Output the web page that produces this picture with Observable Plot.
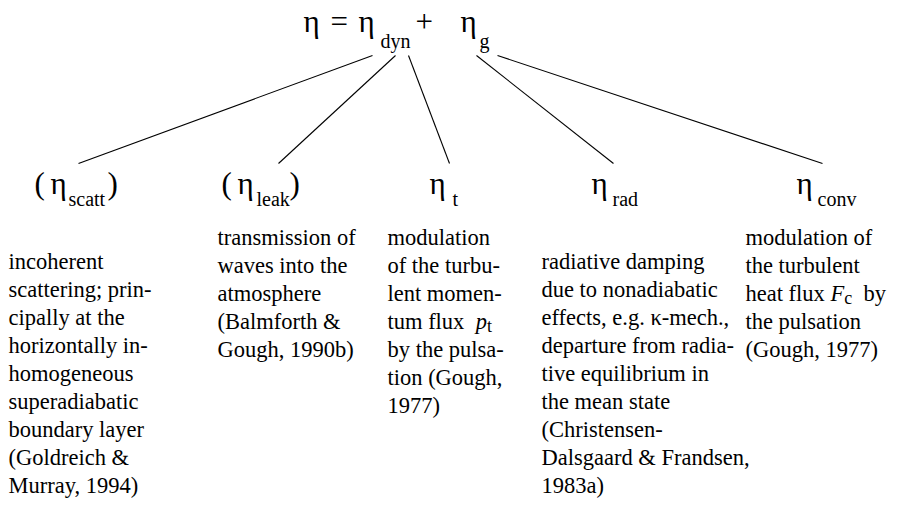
<!DOCTYPE html>
<html><head><meta charset="utf-8">
<script src="https://cdn.jsdelivr.net/npm/d3@7"></script>
<script src="https://cdn.jsdelivr.net/npm/@observablehq/plot@0.6"></script>
<style>
html,body{margin:0;padding:0;background:#fff;}
#chart{width:917px;height:507px;overflow:hidden;}
</style>
</head><body><div id="chart"></div>
<script>
// ---- data ----
const eqText = ["η", "=", "η", "dyn", "+", "η", "g"];
const eqIsSub = [false, false, false, true, false, false, true];

const terms = ["scatt", "leak", "t", "rad", "conv"];
const parents = ["dyn", "dyn", "dyn", "g", "g"];
const bracketed = [true, true, false, false, false];

const desc0 = ["incoherent", "scattering; prin-", "cipally at the", "horizontally in-", "homogeneous", "superadiabatic", "boundary layer", "(Goldreich &", "Murray, 1994)"];
const desc1 = ["transmission of", "waves into the", "atmosphere", "(Balmforth &", "Gough, 1990b)"];
const desc2 = ["modulation", "of the turbu-", "lent momen-", "tum flux  *p*_t", "by the pulsa-", "tion (Gough,", "1977)"];
const desc3 = ["radiative damping", "due to nonadiabatic", "effects, e.g. κ-mech.,", "departure from radia-", "tive equilibrium in", "the mean state", "(Christensen-", "Dalsgaard & Frandsen,", "1983a)"];
const desc4 = ["modulation of", "the turbulent", "heat flux *F*_c  by", "the pulsation", "(Gough, 1977)"];
const descriptions = [desc0, desc1, desc2, desc3, desc4];

// ---- layout (pixel space) ----
const W = 917, H = 507;
const eqX = [303, 330, 358, 380, 415, 460, 479];
const eqBase = 31, eqSubBase = 47;
const linkTopX = [372, 395, 408, 476, 497];
const linkTopY = 55;
const linkBotX = [78, 278, 449, 613, 822];
const linkBotY = 163;
const etaX = [50, 237, 429, 591, 796];
const subX = [68, 256, 452, 612, 817];
const parenL = [34, 221];
const parenR = [107, 289];
const labBase = 193, labSubBase = 205;
const colX = [8, 217, 387, 541, 745];
const colFirst = [268, 244, 244, 268, 244];
const lineH = 28;

const font = "'Liberation Serif', 'Times New Roman', serif";

const eqData = eqText.map((t, i) => ({t, x: eqX[i], y: eqIsSub[i] ? eqSubBase : eqBase, size: eqIsSub[i] ? 20 : 31}));
const links = terms.map((t, i) => ({term: t, parent: parents[i], x1: linkTopX[i], y1: linkTopY, x2: linkBotX[i], y2: linkBotY}));
const labMain = terms.map((t, i) => ({t: "η", x: etaX[i], y: labBase}));
const labSub = terms.map((t, i) => ({t, x: subX[i], y: labSubBase}));
const parens = [];
terms.forEach((t, i) => { if (bracketed[i]) { parens.push({t: "(", x: parenL[i], y: labBase}); parens.push({t: ")", x: parenR[i], y: labBase}); } });
const lines = [];
descriptions.forEach((d, c) => d.forEach((s, k) => lines.push({t: s, x: colX[c], y: colFirst[c] + k * lineH})));

const txt = {textAnchor: "start", lineAnchor: "bottom", fill: "#000", fontFamily: font};
const chart = Plot.plot({
  width: W, height: H,
  margin: 0,
  x: {domain: [0, W], range: [0, W], axis: null},
  y: {domain: [0, H], range: [0, H], axis: null},
  style: {fontFamily: font, background: "#fff", color: "#000", overflow: "visible"},
  marks: [
    Plot.link(links, {x1: "x1", y1: "y1", x2: "x2", y2: "y2", stroke: "#000", strokeWidth: 1.1}),
    Plot.text(eqData, {x: "x", y: "y", text: "t", fontSize: d => d.size, ...txt}),
    Plot.text(labMain, {x: "x", y: "y", text: "t", fontSize: 31, ...txt}),
    Plot.text(labSub, {x: "x", y: "y", text: "t", fontSize: 20, ...txt}),
    Plot.text(parens, {x: "x", y: "y", text: "t", fontSize: 31, ...txt}),
    Plot.text(lines, {x: "x", y: "y", text: "t", fontSize: 22.5, ...txt})
  ]
});
document.getElementById("chart").appendChild(chart);

// rich text: *x* italic, _c subscript
chart.querySelectorAll("text").forEach(el => {
  const s = el.textContent;
  if (!s.includes("_")) return;
  const m = s.match(/\*(.)\*_(.)/);
  if (!m) return;
  const before = s.slice(0, m.index), after = s.slice(m.index + m[0].length);
  while (el.firstChild) el.removeChild(el.firstChild);
  const NS = "http://www.w3.org/2000/svg";
  const add = (t0, attrs) => { const t = document.createElementNS(NS, "tspan"); t.textContent = t0; for (const k in attrs) t.setAttribute(k, attrs[k]); el.appendChild(t); return t; };
  el.style.whiteSpace = "pre";
  add(before, {});
  add(m[1], {"font-style": "italic"});
  add(m[2], {"font-size": "0.8em", dy: "0.2em"});
  add(after, {dy: "-0.16em"});
});
</script>
</body></html>
